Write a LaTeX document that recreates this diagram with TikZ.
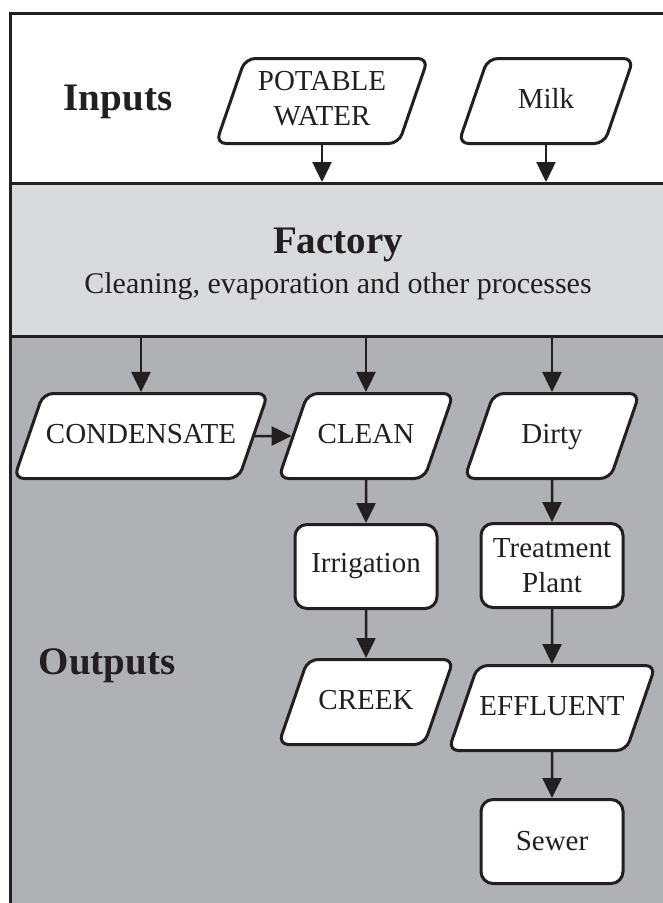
\documentclass[tikz,border=0pt]{standalone}
\usepackage{fontspec}
\setmainfont{Liberation Serif}
\usetikzlibrary{positioning, arrows.meta, shapes.geometric}
\definecolor{inkgray}{RGB}{35,31,32}
\definecolor{factorygray}{RGB}{217,218,220}
\definecolor{outputgray}{RGB}{176,177,181}
\newcommand{\boxfont}{\fontsize{29}{35}\selectfont}
\newcommand{\headfont}{\fontsize{39}{44}\selectfont\bfseries}

\begin{document}
\begin{tikzpicture}[
    x=1pt, y=-1pt,
    band/.style={draw=inkgray, line width=3pt, rectangle, minimum width=658pt, anchor=north west, inner sep=0pt},
    iobox/.style={draw=inkgray, fill=white, line width=3pt, trapezium, trapezium left angle=71, trapezium right angle=109,
        trapezium stretches=false, rounded corners=10pt, inner xsep=0pt, inner ysep=29.5pt, text height=20pt, text depth=6pt,
        text width=#1, align=center, font=\boxfont, text=inkgray},
    iobox/.default=116.5pt,
    procbox/.style={draw=inkgray, fill=white, line width=3pt, rectangle, rounded corners=12pt, minimum width=142pt,
        minimum height=84pt, align=center, font=\boxfont, text=inkgray},
    head/.style={anchor=base, font=\headfont, text=inkgray},
    arr/.style={draw=inkgray, line width=2.5pt, -{Triangle[width=19pt, length=20pt]}}
]
\useasboundingbox (0,0) rectangle (663,903);

\node[band, fill=white, minimum height=170pt] (inband) at (9,12) {};
\node[band, fill=factorygray, minimum height=153pt] (facband) at (9,182) {};
\node[band, fill=outputgray, minimum height=575pt] (outband) at (9,335) {};

\node[head] (inputs) at (118,110) {Inputs};
\node[head] (factory) at (338,253) {Factory};
\node[anchor=base, font=\fontsize{30}{36}\selectfont, text=inkgray] (process) at (338,293) {Cleaning, evaporation and other processes};
\node[head] (outputs) at (107,674) {Outputs};

\node[iobox=153.5pt, inner ysep=12pt, text depth=41pt] (potable) at (322,101) {POTABLE\\WATER};
\node[iobox] (milk) at (546,101) {Milk};
\node[iobox=195.5pt] (cond) at (141,436) {CONDENSATE};
\node[iobox] (clean) at (366,436) {CLEAN};
\node[iobox] (dirty) at (552,436) {Dirty};
\node[procbox, below=43pt of clean] (irrig) {Irrigation};
\node[procbox, below=42pt of dirty] (plant) {Treatment\\Plant};
\node[iobox, below=48pt of irrig] (creek) {CREEK};
\node[iobox=148.5pt, below=55pt of plant] (effluent) {EFFLUENT};
\node[procbox, below=46pt of effluent] (sewer) {Sewer};

\draw[arr] (potable) -- (potable |- facband.north);
\draw[arr] (milk) -- (milk |- facband.north);
\draw[arr] (cond |- facband.south) -- (cond);
\draw[arr] (clean |- facband.south) -- (clean);
\draw[arr] (dirty |- facband.south) -- (dirty);
\draw[arr] (cond) -- (clean);
\draw[arr] (clean) -- (irrig);
\draw[arr] (dirty) -- (plant);
\draw[arr] (irrig) -- (creek);
\draw[arr] (plant) -- (effluent);
\draw[arr] (effluent) -- (sewer);
\end{tikzpicture}
\end{document}
